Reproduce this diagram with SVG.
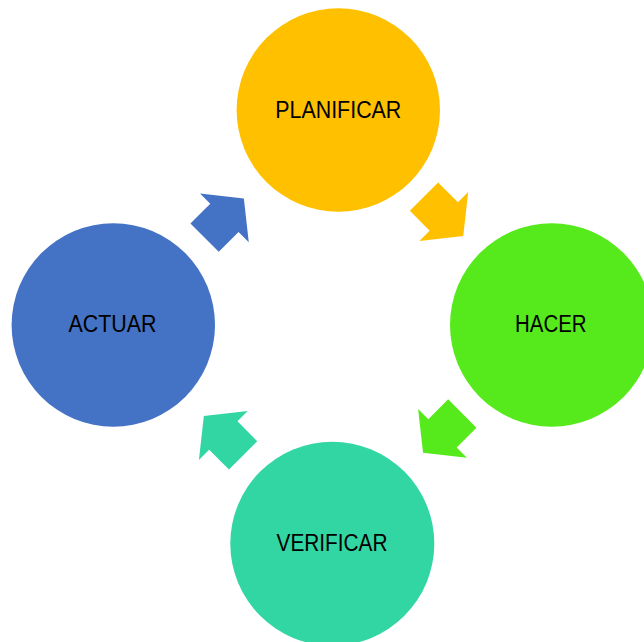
<svg xmlns="http://www.w3.org/2000/svg" width="644" height="642" viewBox="0 0 644 642">
<defs>
<style>
.lbl{font-family:"Liberation Sans","DejaVu Sans",sans-serif;font-size:23.5px;fill:#000;text-anchor:middle}
</style>
<polygon id="arr" points="-28,-20 0,-20 0,-34.5 27.5,0 0,34.5 0,20 -28,20"/>
</defs>
<rect width="644" height="642" fill="#fff"/>
<g id="planificar">
<circle cx="338.3" cy="110" r="101.7" fill="#FFC000"/>
<text class="lbl" x="338.3" y="118.3" textLength="126" lengthAdjust="spacingAndGlyphs">PLANIFICAR</text>
</g>
<g id="hacer">
<circle cx="551.7" cy="325" r="101.7" fill="#56E91B"/>
<text class="lbl" x="550.8" y="332.3" textLength="71.5" lengthAdjust="spacingAndGlyphs">HACER</text>
</g>
<g id="verificar">
<circle cx="332.3" cy="543.7" r="102" fill="#31D6A3"/>
<text class="lbl" x="332" y="551.3" textLength="111" lengthAdjust="spacingAndGlyphs">VERIFICAR</text>
</g>
<g id="actuar">
<circle cx="113.3" cy="325" r="101.7" fill="#4472C4"/>
<text class="lbl" x="112.5" y="332.3" textLength="88" lengthAdjust="spacingAndGlyphs">ACTUAR</text>
</g>
<g id="connectors">
<use href="#arr" fill="#4472C4" transform="translate(224.4,217.9) rotate(-45)"/>
<use href="#arr" fill="#FFC000" transform="translate(443.8,216.5) rotate(45)"/>
<use href="#arr" fill="#56E91B" transform="translate(442.5,433.3) rotate(135)"/>
<use href="#arr" fill="#31D6A3" transform="translate(223.3,435.5) rotate(-135)"/>
</g>
</svg>
